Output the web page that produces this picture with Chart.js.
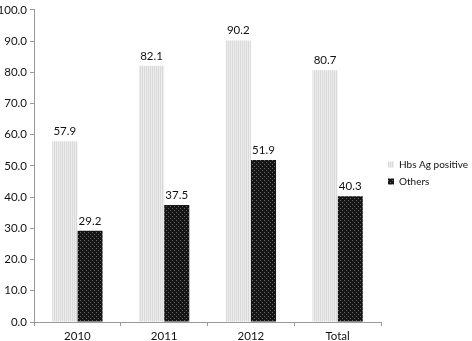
<!DOCTYPE html>
<html>
<head>
<meta charset="utf-8">
<script src="https://cdn.jsdelivr.net/npm/chart.js@4"></script>
<style>
  html, body { margin: 0; padding: 0; background: #fff; }
  #wrap { width: 472px; height: 341px; }
</style>
</head>
<body>
<div id="wrap"><canvas id="plot"></canvas></div>
<script>
// categories and values
const categories = ['2010', '2011', '2012', 'Total'];
const hbsValues = [57.9, 82.1, 90.2, 80.7];
const otherValues = [29.2, 37.5, 51.9, 40.3];
const seriesNames = ['Hbs Ag positive', 'Others'];

// light grey vertical hatching
function stripePattern() {
    const c = document.createElement('canvas');
    c.width = 2; c.height = 2;
    const g = c.getContext('2d');
    g.fillStyle = '#dadada';
    g.fillRect(0, 0, 2, 2);
    g.fillStyle = '#ececec';
    g.fillRect(1, 0, 1, 2);
    return g.createPattern(c, 'repeat');
}

// black with small grey dots
function dotPattern() {
    const c = document.createElement('canvas');
    c.width = 4; c.height = 4;
    const g = c.getContext('2d');
    g.fillStyle = '#151515';
    g.fillRect(0, 0, 4, 4);
    g.fillStyle = '#6a6a6a';
    g.fillRect(0, 0, 1, 1);
    g.fillRect(2, 2, 1, 1);
    return g.createPattern(c, 'repeat');
}

// draws the value above every bar
const valueLabels = {
    id: 'valueLabels',
    afterDatasetsDraw(chart) {
        const ctx = chart.ctx;
        ctx.save();
        ctx.font = '11.5px Lato';
        ctx.fillStyle = '#111';
        ctx.textAlign = 'center';
        ctx.textBaseline = 'bottom';
        chart.data.datasets.forEach((ds, i) => {
            chart.getDatasetMeta(i).data.forEach((bar, j) => {
                ctx.fillText(ds.data[j].toFixed(1), bar.x, bar.y - 4);
            });
        });
        ctx.restore();
    }
};

const ctx = document.getElementById('plot').getContext('2d');
const myChart = new Chart(ctx, {
    type: 'bar',
    data: {
        labels: categories,
        datasets: [{
            label: seriesNames[0],
            data: hbsValues,
            backgroundColor: stripePattern(),
            borderWidth: 0
        },
        {
            label: seriesNames[1],
            data: otherValues,
            backgroundColor: dotPattern(),
            borderWidth: 0
        }]
    },
    plugins: [valueLabels],
    options: {
        responsive: true,
        maintainAspectRatio: false,
        animation: false,
        layout: { padding: { top: 5, right: 0, left: 0, bottom: 0 } },
        datasets: {
            bar: { categoryPercentage: 0.58, barPercentage: 1.0 }
        },
        plugins: {
            legend: {
                position: 'right',
                maxWidth: 91,
                labels: {
                    boxWidth: 6,
                    boxHeight: 6,
                    padding: 7,
                    color: '#111',
                    font: { family: 'Lato', size: 10 }
                }
            },
            tooltip: { enabled: false }
        },
        scales: {
            x: {
                afterFit(scale) { scale.height = 19; },
                grid: {
                    drawOnChartArea: false,
                    tickLength: 4,
                    color: '#999'
                },
                border: { color: '#999' },
                ticks: { color: '#111', font: { family: 'Lato', size: 11.5 }, padding: 3 }
            },
            y: {
                min: 0,
                max: 100,
                afterFit(scale) { scale.width = 34; },
                grid: {
                    drawOnChartArea: false,
                    tickLength: 4,
                    color: '#999'
                },
                border: { color: '#999' },
                ticks: {
                    stepSize: 10,
                    color: '#111',
                    font: { family: 'Lato', size: 11.5 },
                    padding: 3,
                    callback: (v) => v.toFixed(1)
                }
            }
        }
    }
});
</script>
</body>
</html>
